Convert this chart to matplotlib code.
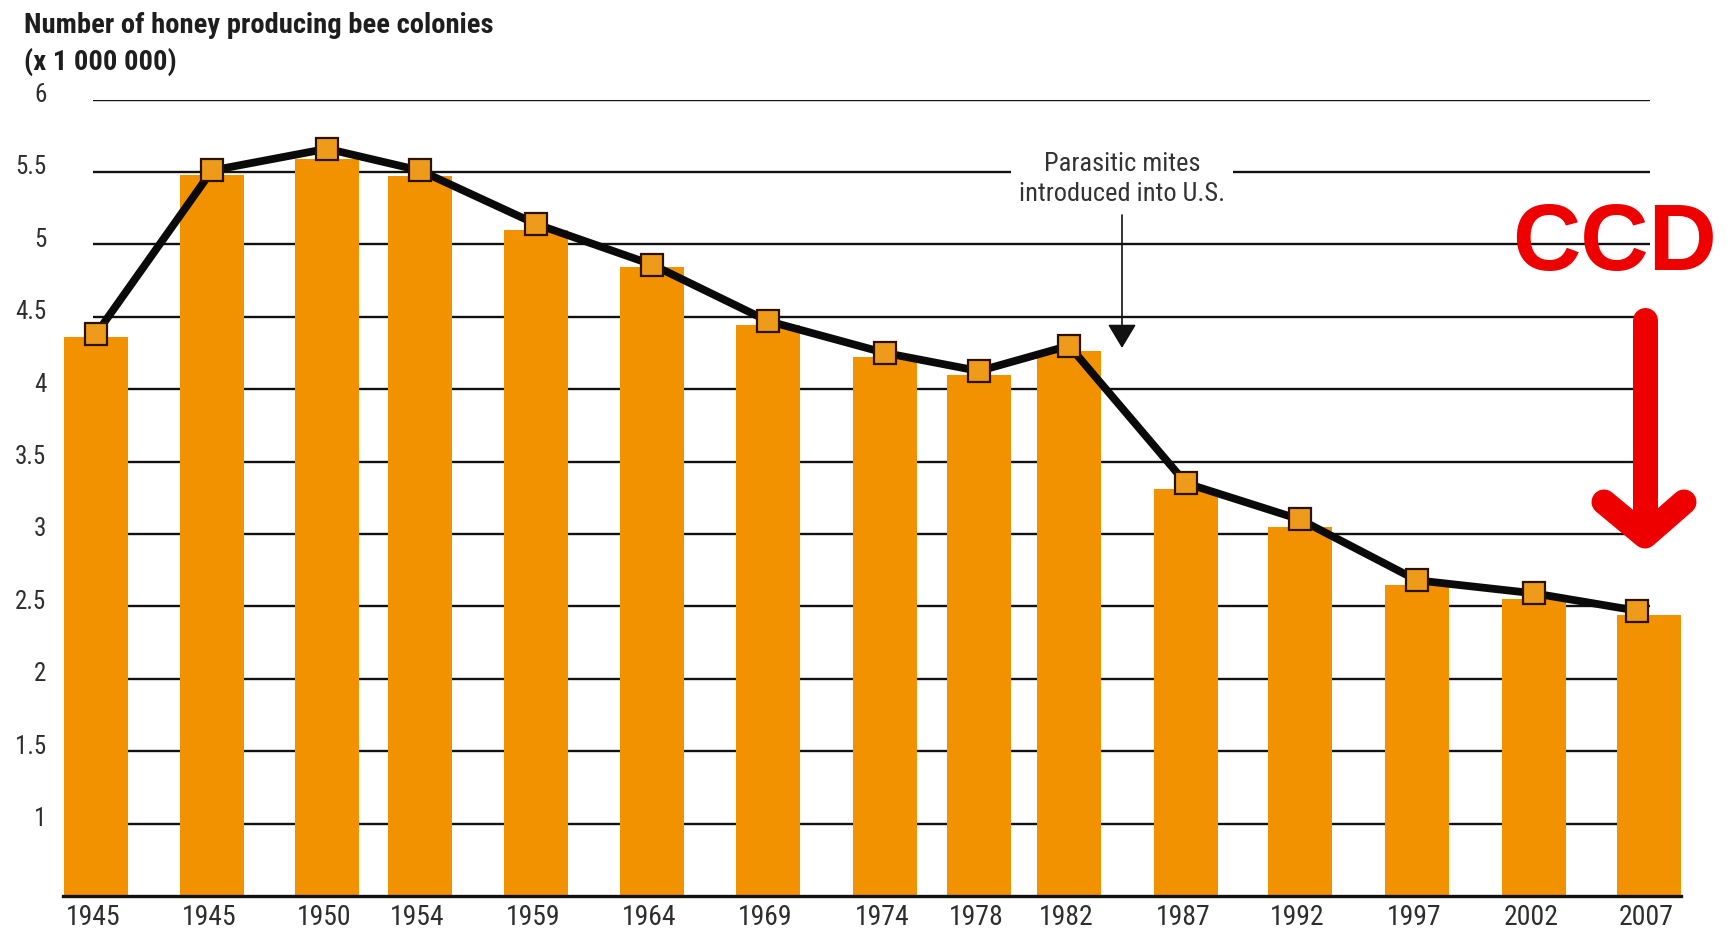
import matplotlib
matplotlib.use("Agg")
import matplotlib.pyplot as plt
import matplotlib.font_manager as fm
from matplotlib.transforms import Affine2D, ScaledTranslation
from matplotlib.lines import Line2D
from matplotlib.patches import FancyArrowPatch

# ---------------- data ----------------
years = ['1945', '1945', '1950', '1954', '1959', '1964', '1969', '1974',
         '1978', '1982', '1987', '1992', '1997', '2002', '2007']
bar_values = [4.36, 5.48, 5.59, 5.47, 5.10, 4.84, 4.44, 4.22, 4.10, 4.26,
              3.31, 3.05, 2.65, 2.55, 2.44]
line_values = [4.38, 5.51, 5.66, 5.51, 5.14, 4.86, 4.47, 4.25, 4.125, 4.30,
               3.35, 3.10, 2.68, 2.59, 2.47]
y_ticks = [1, 1.5, 2, 2.5, 3, 3.5, 4, 4.5, 5, 5.5, 6]
y_tick_labels = ['1', '1.5', '2', '2.5', '3', '3.5', '4', '4.5', '5', '5.5', '6']
title_lines = ['Number of honey producing bee colonies', '(x 1 000 000)']
note_text = 'Parasitic mites\nintroduced into U.S.'
ccd_text = 'CCD'

# ---------------- layout (pixel positions, not data) ----------------
W, H = 1734, 932
bar_x = [96, 212, 327, 420, 536, 652, 768, 885, 979, 1069, 1186, 1300, 1417, 1534, 1649]
marker_x = bar_x[:-1] + [bar_x[-1] - 12]
bar_w = 64

# ---------------- fonts ----------------
avail = {f.name for f in fm.fontManager.ttflist}
def pick(cands, default='DejaVu Sans'):
    for c in cands:
        if c in avail:
            return c
    return default
narrow = pick(['Liberation Sans Narrow', 'Roboto Condensed', 'Open Sans Condensed'])
stretch = 'normal'
if narrow == 'DejaVu Sans':
    if any(f.name == 'DejaVu Sans' and str(f.stretch) == 'condensed' for f in fm.fontManager.ttflist):
        stretch = 'condensed'
bold_font = pick(['Liberation Sans', 'Arial'])
NF = dict(family=[narrow, 'DejaVu Sans'], stretch=stretch)

ORANGE = '#F39200'
MARK = '#EE9A1A'
TXT = '#2e2e2e'

fig = plt.figure(figsize=(W / 100, H / 100), dpi=100)
fig.patch.set_facecolor('white')
fig_px = Affine2D().scale(1.0 / W, -1.0 / H).translate(0, 1) + fig.transFigure

x0, x1 = 63, 1681
y_top, y_bot = 99.5, 896
ax = fig.add_axes([x0 / W, 1 - y_bot / H, (x1 - x0) / W, (y_bot - y_top) / H])
ax.set_xlim(x0, x1)
ax.set_ylim(0.5, 6)
ax.set_facecolor('none')

# gridlines behind bars
ax.hlines(y_ticks, 93, 1650, color='#111111', lw=1.7, zorder=1)

ax.bar(bar_x, bar_values, width=bar_w, bottom=0, color=ORANGE, zorder=2)
ax.plot(marker_x, line_values, color='#0a0a0a', lw=5.6, zorder=3,
        solid_joinstyle='round', solid_capstyle='round')
ax.plot(marker_x, line_values, ls='none', marker='s', ms=15.5,
        markerfacecolor=MARK, markeredgecolor='#2a1200', markeredgewidth=1.6, zorder=4)

for s in ['top', 'right', 'left']:
    ax.spines[s].set_visible(False)
ax.spines['bottom'].set_color('#111111')
ax.spines['bottom'].set_linewidth(2.4)
ax.spines['bottom'].set_zorder(5)

ax.set_yticks(y_ticks)
ax.set_yticklabels(y_tick_labels, fontsize=18, color=TXT, **NF)
ax.set_xticks(bar_x)
ax.set_xticklabels(years, fontsize=20, color=TXT, **NF)
ax.tick_params(axis='y', length=0, pad=12)
ax.tick_params(axis='x', length=0, pad=6)
for lab in ax.get_yticklabels():
    lab.set_transform(lab.get_transform() + ScaledTranslation(0, 7 / 100, fig.dpi_scale_trans))
for lab in ax.get_xticklabels():
    lab.set_transform(lab.get_transform() + ScaledTranslation(-3 / 100, 0, fig.dpi_scale_trans))

# title
fig.text(24, 33, title_lines[0], transform=fig_px, fontsize=20.5, fontweight='bold',
         color='#1e1e1e', ha='left', va='baseline', **NF)
fig.text(24, 70, title_lines[1], transform=fig_px, fontsize=20.5, fontweight='bold',
         color='#1e1e1e', ha='left', va='baseline', **NF)

# parasitic mites note
fig.text(1122, 179, note_text, transform=fig_px, fontsize=19, color='#333333',
         ha='center', va='center', linespacing=1.35, zorder=6,
         bbox=dict(boxstyle='square,pad=0.3', facecolor='white', edgecolor='none'), **NF)
fig.add_artist(FancyArrowPatch((1122, 215), (1122, 348), transform=fig_px,
                               arrowstyle='-|>,head_length=0.75,head_width=0.45',
                               mutation_scale=20, lw=1.2, color='#111111',
                               shrinkA=0, shrinkB=0, zorder=6))

# CCD label and red arrow
fig.text(1615, 270, ccd_text, transform=fig_px, fontsize=68, fontweight='bold',
         color='#EE0000', ha='center', va='baseline', family=bold_font, zorder=7)
RED = '#EE0000'
fig.add_artist(Line2D([1645, 1645], [320, 532], transform=fig_px, color=RED, lw=18,
                      solid_capstyle='round', zorder=7))
fig.add_artist(Line2D([1604, 1645, 1684], [502, 536, 502], transform=fig_px, color=RED, lw=18,
                      solid_capstyle='round', solid_joinstyle='round', zorder=7))

fig.savefig('out.png', dpi=100, facecolor='white')
